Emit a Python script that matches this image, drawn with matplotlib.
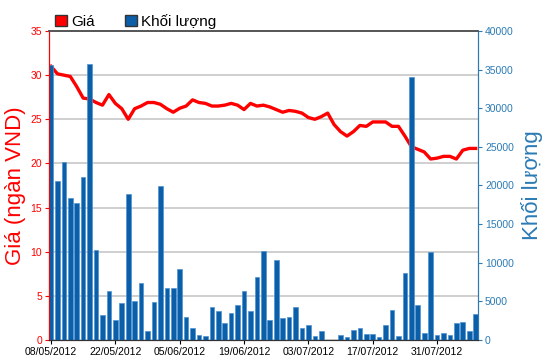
import matplotlib
matplotlib.use("Agg")
import matplotlib.pyplot as plt
from matplotlib.patches import Patch

plt.rcParams['font.family'] = ['Liberation Sans', 'DejaVu Sans']

# du lieu doc tu hinh (67 phien giao dich, 08/05/2012 -> 08/08/2012)
gia = [31.0, 30.15, 30.0, 29.85, 28.7, 27.4, 27.3, 26.9, 26.6, 27.8,
       26.8, 26.2, 25.0, 26.2, 26.5, 26.9, 26.9, 26.7, 26.2, 25.8,
       26.25, 26.5, 27.2, 26.9, 26.8, 26.5, 26.5, 26.6, 26.8, 26.6,
       26.1, 26.8, 26.5, 26.6, 26.4, 26.1, 25.8, 26.0, 25.9, 25.7,
       25.2, 25.0, 25.3, 25.7, 24.4, 23.6, 23.1, 23.6, 24.3, 24.2,
       24.7, 24.7, 24.7, 24.2, 24.2, 23.1, 21.9, 21.6, 21.3, 20.5,
       20.6, 20.8, 20.8, 20.5, 21.5, 21.7, 21.7]

khoi_luong = [35560, 20600, 23100, 18360, 17700, 21080, 35730, 11640, 3190, 6380,
              2540, 4830, 18960, 5090, 7370, 1160, 4960, 19910, 6680, 6680,
              9220, 3020, 1550, 600, 470, 4310, 3710, 2200, 3530, 4480,
              6380, 3710, 8150, 11460, 2540, 10340, 2840, 3020, 4310, 1600,
              1950, 520, 1180, 0, 0, 600, 340, 1290, 1590, 780,
              780, 340, 1900, 3900, 470, 8650, 34090, 4500, 850, 11350,
              600, 950, 600, 2240, 2370, 1120, 3360]

nhan_ngay = ['08/05/2012', '22/05/2012', '05/06/2012', '19/06/2012',
             '03/07/2012', '17/07/2012', '31/07/2012']
vi_tri_ngay = [0, 10, 20, 30, 40, 50, 60]

do = '#ff0000'
xanh = '#0b5ea8'
xanh_truc = '#2b7bb5'

fig = plt.figure(figsize=(5.5, 3.64), dpi=100)
ax = fig.add_axes([49 / 550, 1 - 340 / 364, 429 / 550, 309 / 364])
ax2 = ax.twinx()

x = list(range(len(gia)))

# gia
ax.plot(x, gia, color=do, lw=2.4, solid_joinstyle='round', zorder=3)
ax.set_ylim(0, 35)
ax.set_yticks(range(0, 36, 5))
ax.yaxis.grid(True, color='#cccccc', lw=1.3)
ax.set_axisbelow(True)
ax.set_ylabel('Giá (ngàn VND)', color=do, fontsize=16, labelpad=3)
ax.tick_params(axis='y', colors=do, labelsize=7.5, length=3, width=0.8, pad=2)
ax.set_xlim(-0.31, 66.36)
ax.set_xticks(vi_tri_ngay)
ax.set_xticklabels(nhan_ngay)
ax.tick_params(axis='x', colors='black', labelsize=7.5, length=3, width=0.8, pad=2)

# khoi luong
ax2.bar(x, khoi_luong, width=0.72, color=xanh, edgecolor='#4f94d4', linewidth=0.5, zorder=2)
ax2.set_ylim(0, 40000)
ax2.set_yticks(range(0, 40001, 5000))
ax2.set_ylabel('Khối lượng', color=xanh_truc, fontsize=16, labelpad=5)
ax2.tick_params(axis='y', colors=xanh_truc, labelsize=7.5, length=3, width=0.8, pad=2)

for a in (ax, ax2):
    a.spines['left'].set_color(do)
    a.spines['right'].set_color(xanh_truc)
    a.spines['top'].set_color('#555555')
    a.spines['top'].set_linewidth(1.2)
    a.spines['bottom'].set_color('#333333')

# chu thich
chu_thich = [Patch(facecolor=do, edgecolor='#333333', label='Giá'),
             Patch(facecolor=xanh, edgecolor='#333333', label='Khối lượng')]
fig.legend(handles=chu_thich, loc='upper left', bbox_to_anchor=(46 / 550, 1 - 5 / 364),
           ncol=2, frameon=False, fontsize=11, handlelength=0.75, handleheight=0.75,
           handletextpad=0.3, columnspacing=2.0, borderaxespad=0.2)

fig.savefig('out.png', dpi=100)
